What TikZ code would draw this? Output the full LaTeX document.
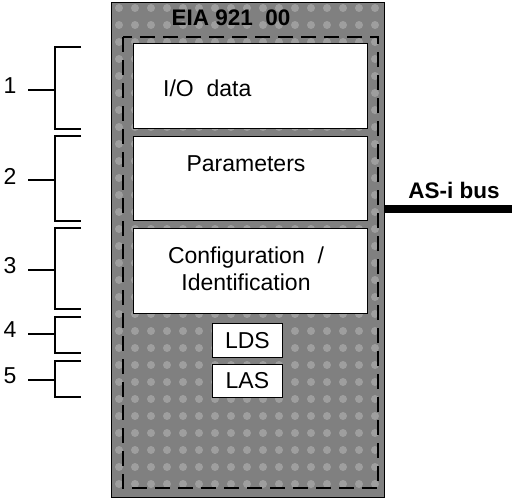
\documentclass[tikz,border=0pt]{standalone}
\usepackage{fontspec}
\setmainfont{Liberation Sans}
\begin{document}
\begin{tikzpicture}[x=1pt,y=-1pt,
  txt/.style={font=\fontsize{23}{27}\selectfont, inner sep=0pt, align=center},
  btxt/.style={font=\fontsize{22.5}{27}\selectfont\bfseries, inner sep=0pt},
  whitebox/.style={draw=black, line width=0.8pt, fill=white, inner sep=0pt, anchor=north west},
  bracketline/.style={line width=2.8pt, line cap=butt, line join=miter},
  busline/.style={line width=8pt},
  dashframe/.style={draw=black, line width=1.1pt, dash pattern=on 15pt off 8pt}
]
\useasboundingbox (0,0) rectangle (512,499);
\definecolor{basegray}{RGB}{128,128,128}
\definecolor{dotgray}{RGB}{158,158,158}

% module body
\node[draw=black, line width=0.8pt, fill=basegray, minimum width=273pt, minimum height=495pt, inner sep=0pt, anchor=north west] (module) at (111,2) {};
\begin{scope}
  \clip (111,2) rectangle (384,497);
  \foreach \xx in {119,135,...,384} {
    \foreach \yy in {8,25,...,497} {
      \fill[dotgray] (\xx,\yy) circle[radius=4pt];
    }
  }
\end{scope}
\draw[dashframe] (123,37) rectangle (378,488);

% title
\node[btxt] (title) at (231,18) {EIA 921\ \ 00};

% memory areas
\node[whitebox, minimum width=234pt, minimum height=85pt] (io) at (133,43) {};
\node[txt, anchor=west] (iotxt) at (163,88) {I/O\ \ data};
\node[whitebox, minimum width=234pt, minimum height=84pt] (par) at (133,136) {};
\node[txt] (partxt) at (246,164) {Parameters};
\node[whitebox, minimum width=234pt, minimum height=85pt] (conf) at (133,228) {};
\node[txt] (conftxt) at (246,269) {Configuration\ \ /\\Identification};
\node[whitebox, minimum width=70pt, minimum height=34pt] (lds) at (212,323) {};
\node[txt] (ldstxt) at (lds.center) {LDS};
\node[whitebox, minimum width=70pt, minimum height=33pt] (las) at (212,364) {};
\node[txt] (lastxt) at (las.center) {LAS};

% AS-i bus
\coordinate (busend) at (512,209);
\draw[busline] (module.east |- busend) -- (busend);
\node[btxt] (bus) at (454,190) {AS-i bus};

% brackets with numbers
\foreach \n/\top/\bot/\mid in {1/47/129/90, 2/136/221/180, 3/228/309/270, 4/317/353/334, 5/361/397/380} {
  \node[txt, anchor=center] (num\n) at (10,\mid-4) {\n};
  \coordinate (bt\n) at (81,\top);
  \coordinate (bb\n) at (81,\bot);
  \coordinate (bm\n) at (55,\mid);
  \draw[bracketline] (bt\n) -- (bm\n |- bt\n) -- (bm\n |- bb\n) -- (bb\n);
  \draw[bracketline] (28,\mid) -- (bm\n);
}
\end{tikzpicture}
\end{document}
